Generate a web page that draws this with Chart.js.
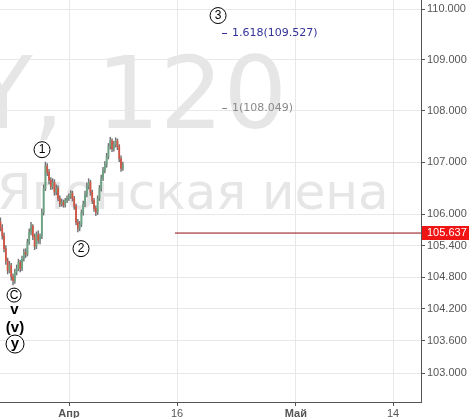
<!DOCTYPE html>
<html>
<head>
<meta charset="utf-8">
<script src="https://cdn.jsdelivr.net/npm/chart.js@4/dist/chart.umd.min.js"></script>
<style>
  html, body { margin: 0; padding: 0; background: #fff; }
</style>
</head>
<body>
<canvas id="chart" width="469" height="418"></canvas>
<script>
// USD/JPY, 4h bars, x axis in trading days counted from 2 Apr
var firstBarDay = -6.35;
var barStep = 1 / 6;

var openP = [105.85,105.73,105.59,105.34,105.11,104.92,105.02,104.81,104.73,104.89,
             104.96,105.08,104.96,105.15,105.27,105.23,105.46,105.65,105.77,105.57,
             105.38,105.61,105.50,105.57,106.03,106.49,106.92,106.80,106.65,106.53,
             106.61,106.42,106.49,106.30,106.19,106.23,106.17,106.26,106.30,106.34,
             106.40,106.30,106.15,105.84,105.73,105.80,106.03,106.19,106.38,106.53,
             106.61,106.42,106.26,106.11,106.03,106.30,106.49,106.69,106.84,106.95,
             107.11,107.30,107.41,107.26,107.34,107.41,107.30,107.07,106.88];
var highP = [105.93,105.80,105.64,105.40,105.16,105.10,105.06,104.86,104.95,105.03,
             105.14,105.12,105.20,105.33,105.34,105.52,105.72,105.84,105.80,105.62,
             105.66,105.68,105.62,106.10,106.56,107.00,106.97,106.86,106.70,106.68,
             106.66,106.56,106.54,106.35,106.29,106.27,106.30,106.35,106.39,106.45,
             106.44,106.34,106.19,105.90,105.86,106.08,106.25,106.44,106.60,106.68,
             106.65,106.46,106.30,106.16,106.35,106.55,106.75,106.90,107.01,107.17,
             107.36,107.48,107.45,107.40,107.47,107.45,107.34,107.12,107.00];
var lowP  = [105.68,105.52,105.28,105.04,104.86,104.88,104.74,104.65,104.68,104.84,
             104.92,104.90,104.92,105.10,105.17,105.20,105.42,105.60,105.51,105.32,
             105.34,105.44,105.43,105.53,105.98,106.45,106.74,106.58,106.47,106.48,
             106.36,106.37,106.25,106.14,106.15,106.13,106.13,106.22,106.26,106.30,
             106.25,106.09,105.79,105.66,105.68,105.76,105.98,106.14,106.33,106.48,
             106.36,106.20,106.05,105.97,105.99,106.26,106.44,106.64,106.79,106.90,
             107.06,107.25,107.20,107.21,107.29,107.24,107.01,106.82,106.84];
var closeP = [105.73,105.59,105.34,105.11,104.92,105.02,104.81,104.73,104.89,104.96,
              105.08,104.96,105.15,105.27,105.23,105.46,105.65,105.77,105.57,105.38,
              105.61,105.50,105.57,106.03,106.49,106.92,106.80,106.65,106.53,106.61,
              106.42,106.49,106.30,106.19,106.23,106.17,106.26,106.30,106.34,106.40,
              106.30,106.15,105.84,105.73,105.80,106.03,106.19,106.38,106.53,106.61,
              106.42,106.26,106.11,106.03,106.30,106.49,106.69,106.84,106.95,107.11,
              107.30,107.41,107.26,107.34,107.41,107.30,107.07,106.88,106.95];

var xTickDays = [0, 10, 21, 30];
var xTickLabels = ['Апр', '16', 'Май', '14'];
var yTicks = [110, 109, 108, 107, 106, 105.4, 104.8, 104.2, 103.6, 103];

var xMin = -6.39, xMax = 32.59;
var yMin = 102.462, yMax = 110.179;

// wave marks
var waveText  = ['1', '2', '3', 'C', 'v', '(v)', 'y'];
var waveDay   = [-2.5, 1.11, 13.8, -5.09, -5.05, -5.0, -5.0];
var wavePrice = [107.24, 105.34, 109.87, 104.46, 104.18, 103.85, 103.54];

// fibonacci extension levels
var fibRatio = ['1.618', '1'];
var fibPrice = [109.527, 108.049];
var fibDay = 14.17;

var lastPrice = 105.637;
var lastLineDay = 9.81;

var upColor = '#6ba583', downColor = '#d75442', wickColor = '#737375';

var xs = openP.map(function(_, i) { return firstBarDay + i * barStep; });
var wicks = xs.map(function(x, i) { return { x: x, y: [lowP[i], highP[i]] }; });
var bodies = xs.map(function(x, i) { return { x: x, y: [openP[i], closeP[i]] }; });
var bodyColors = closeP.map(function(c, i) { return c >= openP[i] ? upColor : downColor; });

var overlay = {
    id: 'overlay',
    beforeDraw: function(chart) {
        var c = chart.ctx;
        c.save();
        c.fillStyle = '#e6e6e6';
        c.textBaseline = 'alphabetic';
        c.font = '100px "DejaVu Sans", sans-serif';
        c.textAlign = 'right';
        c.fillText('USDJPY, 120', 287, 128);
        c.font = '50px "DejaVu Sans", sans-serif';
        c.textAlign = 'left';
        c.fillText('Японская иена', -3, 209);
        c.restore();
    },
    afterDraw: function(chart) {
        var c = chart.ctx, sx = chart.scales.x, sy = chart.scales.y;
        var circled = { '1': 8, '2': 8, '3': 8, 'C': 7, 'y': 9 };
        var bold = { 'v': 1, '(v)': 1, 'y': 1 };
        c.save();
        c.textAlign = 'center';
        c.textBaseline = 'middle';
        waveText.forEach(function(t, i) {
            var px = sx.getPixelForValue(waveDay[i]);
            var py = sy.getPixelForValue(wavePrice[i]);
            if (circled[t]) {
                c.beginPath();
                c.arc(px, py, circled[t], 0, Math.PI * 2);
                c.fillStyle = '#fff';
                c.fill();
                c.lineWidth = 1;
                c.strokeStyle = '#000';
                c.stroke();
            }
            c.fillStyle = '#000';
            c.font = (bold[t] ? 'bold 15px ' : '12px ') + '"Liberation Sans", Arial, sans-serif';
            c.fillText(t, px, py + (bold[t] ? 0 : 0.5));
        });

        // fib labels
        c.textAlign = 'left';
        c.font = '11px "DejaVu Sans", Verdana, sans-serif';
        fibRatio.forEach(function(r, i) {
            var px = sx.getPixelForValue(fibDay);
            var py = Math.round(sy.getPixelForValue(fibPrice[i])) + 0.5;
            var col = i === 0 ? '#333399' : '#8a8a8a';
            c.strokeStyle = col;
            c.beginPath();
            c.moveTo(px, py);
            c.lineTo(px + 5, py);
            c.stroke();
            c.fillStyle = col;
            c.fillText(r + '(' + fibPrice[i].toFixed(3) + ')', px + 10, py);
        });

        // last price label on the axis
        var ly = sy.getPixelForValue(lastPrice);
        c.fillStyle = '#f01414';
        c.fillRect(sy.left + 1, Math.round(ly) - 7, chart.width - sy.left - 1, 14);
        c.fillStyle = '#fff';
        c.font = '11px "Liberation Sans", Arial, sans-serif';
        c.fillText(lastPrice.toFixed(3), sy.left + 6, Math.round(ly));
        c.restore();
    }
};

var axisFont = '"Liberation Sans", Arial, sans-serif';

new Chart(document.getElementById('chart'), {
    type: 'bar',
    data: {
        datasets: [
            { type: 'line', data: [{ x: lastLineDay, y: lastPrice }, { x: xMax, y: lastPrice }],
              borderColor: '#8e0b12', borderWidth: 1, pointRadius: 0, order: 0 },
            { data: bodies, backgroundColor: bodyColors, barThickness: 1.1, grouped: false,
              borderWidth: 0, order: 1 },
            { data: wicks, backgroundColor: wickColor, barThickness: 0.8, grouped: false,
              borderWidth: 0, order: 2 }
        ]
    },
    options: {
        responsive: false,
        animation: false,
        layout: { padding: 0 },
        plugins: { legend: { display: false }, tooltip: { enabled: false } },
        scales: {
            x: {
                type: 'linear', min: xMin, max: xMax, offset: false,
                afterBuildTicks: function(s) { s.ticks = xTickDays.map(function(v) { return { value: v }; }); },
                afterFit: function(s) { s.height = 16; },
                grid: { color: '#e8e8e8', tickColor: '#555', tickLength: 4, offset: false },
                border: { color: '#555' },
                ticks: {
                    autoSkip: false, maxRotation: 0, color: '#555', padding: 1,
                    font: function(ctx) {
                        var lbl = xTickLabels[ctx.index];
                        return { family: axisFont, size: 11, weight: (lbl === 'Апр' || lbl === 'Май') ? 'bold' : 'normal' };
                    },
                    callback: function(v, i) { return xTickLabels[i]; }
                }
            },
            y: {
                type: 'logarithmic', position: 'right', min: yMin, max: yMax,
                afterBuildTicks: function(s) { s.ticks = yTicks.map(function(v) { return { value: v }; }); },
                afterFit: function(s) { s.width = 48; s.paddingTop = 0; s.paddingBottom = 0; },
                grid: { color: '#e8e8e8', tickColor: '#555', tickLength: 4 },
                border: { color: '#555' },
                ticks: {
                    color: '#555', padding: 2, font: { family: axisFont, size: 11 },
                    callback: function(v) { return Number(v).toFixed(3); }
                }
            }
        }
    },
    plugins: [overlay]
});
</script>
</body>
</html>
